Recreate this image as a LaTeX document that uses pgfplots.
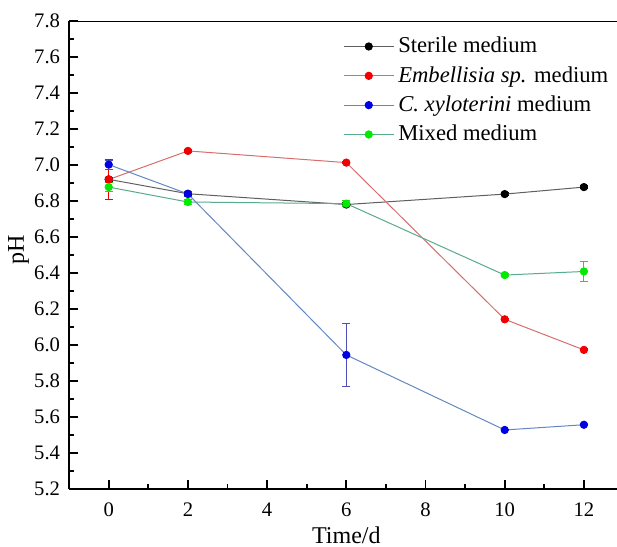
\documentclass[border=0pt]{standalone}
\usepackage{fontspec}
\setmainfont{Liberation Serif}
\usepackage{pgfplots}
\pgfplotsset{compat=1.18}
\definecolor{lnblack}{RGB}{95,95,95}
\definecolor{lnred}{RGB}{215,110,110}
\definecolor{lnblue}{RGB}{100,135,195}
\definecolor{lngreen}{RGB}{90,170,140}
\definecolor{mkred}{RGB}{240,0,0}
\definecolor{mkblue}{RGB}{0,0,230}
\definecolor{mkgreen}{RGB}{0,235,0}
\definecolor{ebblue}{RGB}{80,80,180}
\definecolor{ebgreen}{RGB}{40,210,40}
\begin{document}
\begin{tikzpicture}
\begin{axis}[
  scale only axis, width=276.75pt, height=233.5pt,
  xmin=-1, xmax=13, ymin=5.2, ymax=7.8,
  axis x line*=bottom, axis y line*=left,
  axis line style={-, line width=1pt},
  xtick={0,2,4,6,8,10,12}, minor xtick={1,3,5,7,9,11},
  ytick={5.2,5.4,5.6,5.8,6.0,6.2,6.4,6.6,6.8,7.0,7.2,7.4,7.6,7.8}, minor y tick num=1,
  tick align=inside,
  major tick length=4.5pt, minor tick length=2.5pt,
  every tick/.style={line width=0.9pt, black},
  /pgf/number format/assume math mode=true,
  yticklabel style={/pgf/number format/fixed, /pgf/number format/fixed zerofill, /pgf/number format/precision=1},
  tick label style={font=\fontsize{10.3}{12}\selectfont},
  xticklabel style={yshift=-3.5pt},
  yticklabel style={xshift=-1pt},
  xlabel={Time/d}, ylabel={pH},
  label style={font=\fontsize{12}{14}\selectfont},
  xlabel style={at={(axis description cs:0.5,-0.1178)}, anchor=base},
  ylabel style={at={(axis description cs:-0.0912,0.51)}, anchor=center},
  every axis plot/.append style={line width=0.5pt},
  error bars/error bar style={line width=0.5pt},
  error bars/error mark options={rotate=90, mark size=2pt, line width=0.5pt},
  legend style={draw=none, fill=none, at={(axis description cs:0.4937,0.975)}, anchor=north west,
    font=\fontsize{11.3}{13}\selectfont, row sep=1.3pt, inner sep=0pt,
    /tikz/every even column/.append style={column sep=2.5pt}},
  legend cell align=left,
  legend image code/.code={\draw[mark repeat=2,mark phase=2,#1] plot coordinates {(0pt,0pt) (12.5pt,0pt) (25pt,0pt)};},
]
\draw[line width=1pt] (rel axis cs:0,1) -- (rel axis cs:1,1);
\addplot[lnblack, mark=*, mark size=1.8pt, mark options={draw=black, fill=black},
  error bars/.cd, y dir=both, y explicit, error bar style={black}]
  table[x=x, y=y, y error=e] {
x y e
0 6.92 0.01
2 6.84 0.01
6 6.78 0.01
10 6.838 0.01
12 6.877 0.01
};
\addlegendentry{Sterile medium}
\addplot[lnred, mark=*, mark size=1.8pt, mark options={draw=mkred, fill=mkred},
  error bars/.cd, y dir=both, y explicit, error bar style={mkred}]
  table[x=x, y=y, y error=e] {
x y e
0 6.919 0.112
2 7.078 0.01
6 7.013 0.006
10 6.142 0.006
12 5.972 0.006
};
\addlegendentry{\textit{Embellisia sp.} medium}
\addplot[lnblue, mark=*, mark size=1.8pt, mark options={draw=mkblue, fill=mkblue},
  error bars/.cd, y dir=both, y explicit, error bar style={ebblue}]
  table[x=x, y=y, y error=e] {
x y e
0 7.002 0.025
2 6.839 0.015
6 5.944 0.177
10 5.527 0.005
12 5.556 0.005
};
\addlegendentry{\textit{C. xyloterini} medium}
\addplot[lngreen, mark=*, mark size=1.8pt, mark options={draw=mkgreen, fill=mkgreen},
  error bars/.cd, y dir=both, y explicit, error bar style={ebgreen}]
  table[x=x, y=y, y error=e] {
x y e
0 6.877 0.025
2 6.794 0.015
6 6.785 0.015
10 6.388 0.008
12 6.408 0.057
};
\addlegendentry{Mixed medium}
\end{axis}
\pgfresetboundingbox
\useasboundingbox (-34.5pt,-29pt) rectangle (273.5pt,244pt);
\end{tikzpicture}
\end{document}
